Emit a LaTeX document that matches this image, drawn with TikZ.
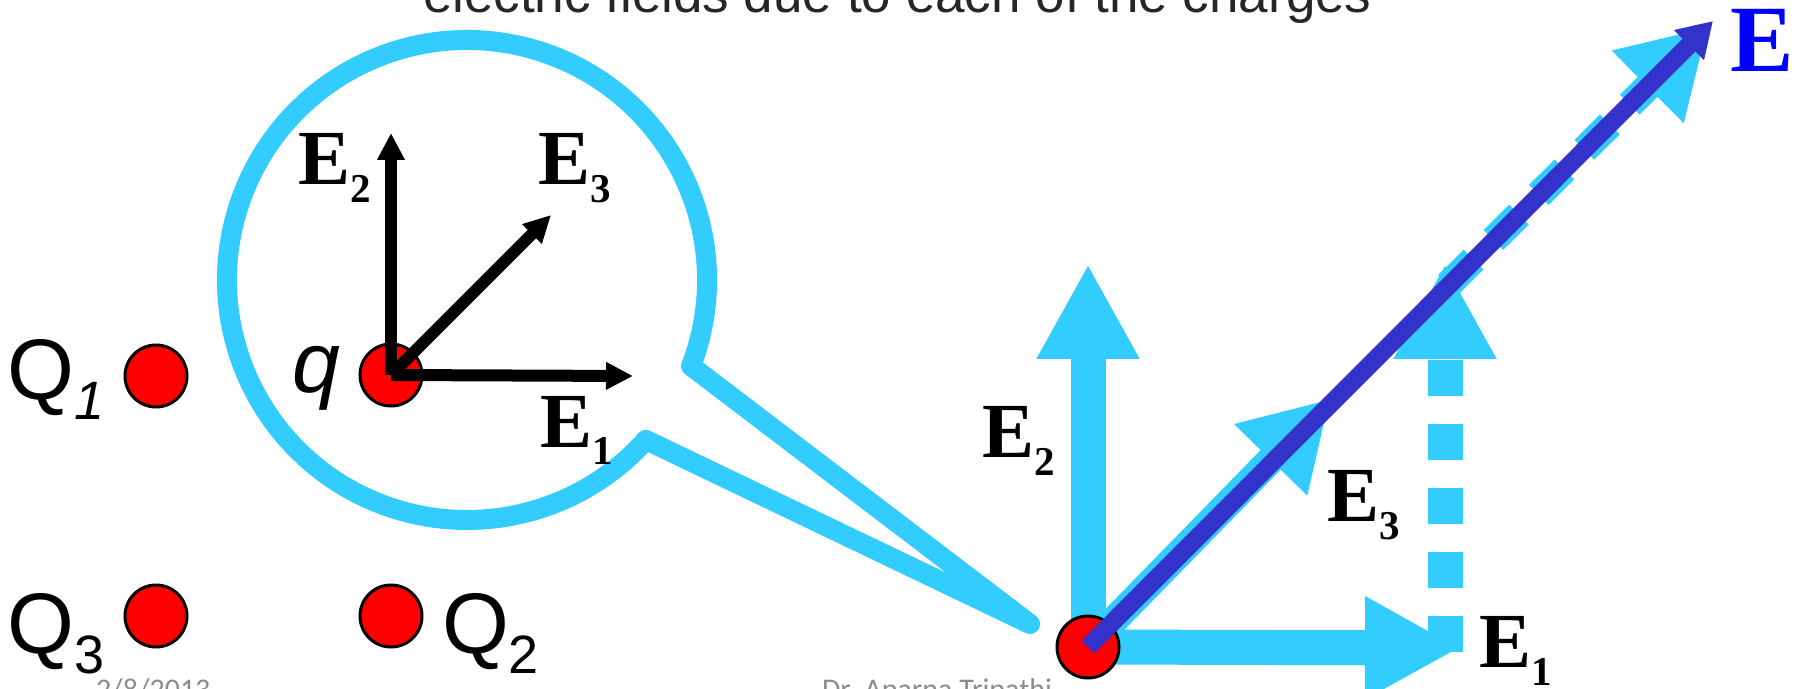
\documentclass[tikz,border=0pt]{standalone}
\usepackage{fontspec}
\setmainfont{Liberation Serif}
\newfontfamily\sansfont{Liberation Sans}
\newfontfamily\footfont{Carlito}
\usetikzlibrary{arrows.meta}
\definecolor{fieldblue}{HTML}{33CCFF}
\definecolor{sumblue}{HTML}{3333CC}
\newcommand{\Efield}[1]{\fontsize{39}{39}\selectfont\bfseries E\raisebox{-9pt}{\fontsize{20.5}{20.5}\selectfont #1}}
\newcommand{\Qcharge}[1]{\sansfont\fontsize{43}{43}\selectfont Q\raisebox{-10pt}{\fontsize{27}{27}\selectfont #1}}

\begin{document}
\begin{tikzpicture}[x=0.5pt,y=-0.5pt,
    charge/.style={circle,fill=red,draw=black,line width=1.5pt,minimum size=31pt,inner sep=0pt},
    lab/.style={anchor=base west,inner sep=0pt,outer sep=0pt},
    small/.style={line width=6pt,-{Triangle[length=13.5pt,width=13pt]}},
    big/.style={fieldblue,line width=17.5pt,-{Triangle[length=47.5pt,width=48pt]}},
    slant/.style={fieldblue,line width=14pt,-{Triangle[length=42.5pt,width=48pt]}},
    shifted/.style={dash pattern=on 18pt off 14pt}]
  \useasboundingbox (0,0) rectangle (1798,689);
  \clip (0,0) rectangle (1798,689);

  % heading and footer, cut by the frame
  \node[lab,font=\sansfont\fontsize{26.5}{26.5}\selectfont,text=black!85] (head) at (423,13) {electric fields due to each of the charges};
  \node[lab,font=\footfont\fontsize{15}{15}\selectfont,text=black!45] (date) at (96,699) {2/8/2013};
  \node[lab,font=\footfont\fontsize{15}{15}\selectfont,text=black!45] (name) at (822,699) {Dr. Aparna Tripathi};

  % callout
  \coordinate (ctr) at (467,280);
  \coordinate (tail) at (1030,624);
  \draw[fieldblue,line width=10pt,line join=round] (ctr) ++(-21:120pt)
    arc[start angle=-21,end angle=318.2,radius=120pt] -- (tail) -- cycle;

  % charges
  \foreach \n/\x/\y in {Q1/156/376,Q3/156/616,Q2/391/616,q/391/375} {
    \node[charge] (\n) at (\x,\y) {};
  }
  \node[lab] (lQ1) at (8,400) {\Qcharge{\itshape 1}};
  \node[lab] (lQ3) at (8,653) {\Qcharge{3}};
  \node[lab] (lQ2) at (442,653) {\Qcharge{2}};
  \node[lab,font=\sansfont\itshape\fontsize{43}{43}\selectfont] (lq) at (292,393) {q};

  % fields at q
  \coordinate (a1) at (633,376);
  \coordinate (a2) at (391,133);
  \coordinate (a3) at (551,215);
  \draw[small] (q.center) -- (a1);
  \draw[small] (q.center) -- (a2);
  \draw[small] (q.center) -- (a3);
  \node[lab] (lE2) at (298,185) {\Efield{2}};
  \node[lab] (lE3) at (538,185) {\Efield{3}};
  \node[lab] (lE1) at (540,447) {\Efield{1}};

  % vector sum
  \coordinate (P) at (1088,647);
  \coordinate (b1) at (1460,648);
  \coordinate (b2) at (1088,264);
  \coordinate (b3) at (1330,399);
  \coordinate (s1) at (1445,652);
  \coordinate (s2) at (1445,264);
  \coordinate (s3) at (1448,285);
  \coordinate (s4) at (1708,27);
  \coordinate (R) at (1713,21);
  \draw[big] (P) -- (b2);
  \draw[big] (P) -- (b1);
  \draw[big,shifted] (s1) -- (s2);
  \draw[slant,shifted] (s3) -- (s4);
  \draw[slant] (P) -- (b3);
  \node[charge] (p) at (P) {};
  \draw[sumblue,line width=9pt,-{Triangle[length=17pt,width=20pt]}] (p.center) -- (R);
  \node[lab] (rE2) at (982,458) {\Efield{2}};
  \node[lab] (rE3) at (1327,521) {\Efield{3}};
  \node[lab] (rE1) at (1479,667) {\Efield{1}};
  \node[lab,text=blue,font=\bfseries\fontsize{47.5}{47.5}\selectfont] (rE) at (1730,72) {E};
\end{tikzpicture}
\end{document}
